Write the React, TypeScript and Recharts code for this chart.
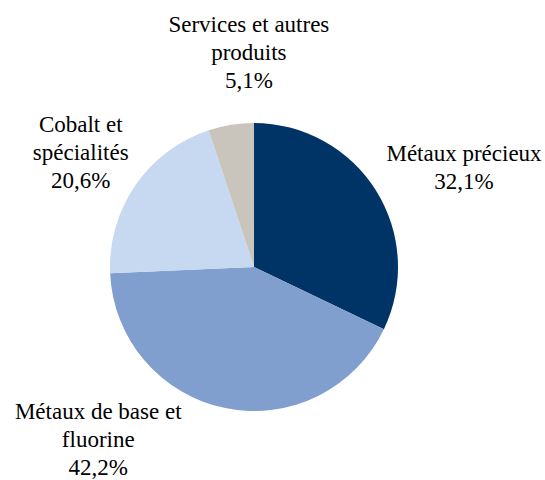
import { useEffect, useState } from "react"
import { PieChart, Pie, Cell } from "recharts"

// segments, clockwise from 12 o'clock
const categories = [
  "Métaux précieux",
  "Métaux de base et\nfluorine",
  "Cobalt et\nspécialités",
  "Services et autres\nproduits",
]
const shares = [32.1, 42.2, 20.6, 5.1]
const colors = ["#003466", "#809FCE", "#C6D9F0", "#C9C5BD"]

// hand-tuned label nudges (px) from the radial anchor, per segment
const labelNudges = [
  [29, 15],
  [-113, -37],
  [3, 7],
  [29, -3],
]

const data = categories.map((name, i) => ({ name, value: shares[i] }))

const RAD = Math.PI / 180
const FONT = 23
const LINE = 28
const SERIF = "Liberation Serif"

// kick off the font load as early as possible
const fontReady: Promise<unknown> =
  typeof document !== "undefined" && (document as any).fonts
    ? (document as any).fonts.load(`${FONT}px "${SERIF}"`, "Métaux").catch(() => null)
    : Promise.resolve(null)

function renderLabel(props: any) {
  const { cx, cy, midAngle, outerRadius, index } = props
  const r = outerRadius + 70
  const [dx, dy] = labelNudges[index]
  const x = cx + r * Math.cos(-midAngle * RAD) + dx
  const yc = cy + r * Math.sin(-midAngle * RAD) + dy
  const lines = [...categories[index].split("\n"), shares[index].toFixed(1).replace(".", ",") + "%"]
  const y0 = yc - ((lines.length - 1) * LINE) / 2 + 7
  return (
    <g key={index}>
      <text x={x} y={y0} textAnchor="middle" fill="#000" fontFamily={SERIF} fontSize={FONT}>
        {lines.map((l, i) => (
          <tspan key={i} x={x} y={y0 + i * LINE}>
            {l}
          </tspan>
        ))}
      </text>
    </g>
  )
}

export default function App() {
  const [tick, setTick] = useState(0)
  useEffect(() => {
    fontReady.then(() => setTick((t) => t + 1))
  }, [])

  return (
    <div style={{ position: "absolute", left: 0, top: 0, background: "#fff", fontFamily: SERIF }}>
      <PieChart key={tick} width={545} height={480} margin={{ top: 0, right: 0, bottom: 0, left: 0 }}>
        <Pie
          data={data}
          dataKey="value"
          nameKey="name"
          cx={254}
          cy={267}
          outerRadius={144}
          startAngle={90}
          endAngle={-270}
          stroke="none"
          label={renderLabel}
          labelLine={false}
          isAnimationActive={false}
        >
          {data.map((d, i) => (
            <Cell key={d.name} fill={colors[i]} />
          ))}
        </Pie>
      </PieChart>
    </div>
  )
}
